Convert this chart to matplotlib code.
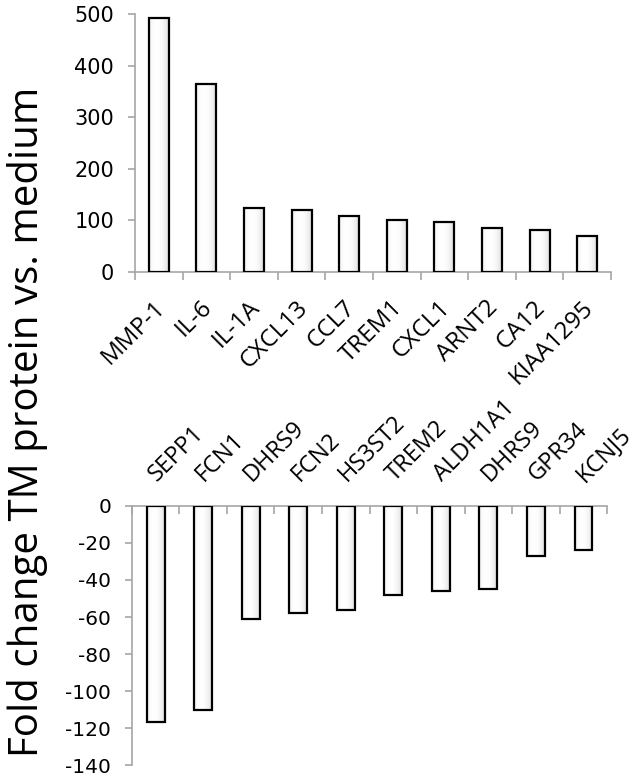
import matplotlib
matplotlib.use("Agg")
import matplotlib.pyplot as plt
import matplotlib.transforms as mtransforms
import numpy as np

up_genes = ["MMP-1", "IL-6", "IL-1A", "CXCL13", "CCL7", "TREM1", "CXCL1", "ARNT2", "CA12", "KIAA1295"]
up_values = [492, 364, 124, 120, 108, 101, 97, 85, 82, 70]

down_genes = ["SEPP1", "FCN1", "DHRS9", "FCN2", "HS3ST2", "TREM2", "ALDH1A1", "DHRS9", "GPR34", "KCNJ5"]
down_values = [-117, -110, -61, -58, -56, -48, -46, -45, -27, -24]

up_yticks = [0, 100, 200, 300, 400, 500]
down_yticks = [0, -20, -40, -60, -80, -100, -120, -140]

AXIS_GREY = "#a6a6a6"

plt.rcParams["axes.unicode_minus"] = False
plt.rcParams["font.family"] = ["DejaVu Sans"]

# light grey at the bar edges, almost white a little left of centre
t = np.linspace(0, 1, 64)
gradient = (1.0 - 0.13 * ((t - 0.4) / 0.6) ** 2).reshape(1, -1)


def draw_bars(ax, values, width):
    x = np.arange(len(values))
    bars = ax.bar(x, values, width=width, facecolor="none", edgecolor="black",
                  linewidth=1.6, zorder=3)
    for bar in bars:
        x0 = bar.get_x()
        y0 = bar.get_y()
        y1 = y0 + bar.get_height()
        ax.imshow(gradient, cmap="gray", vmin=0, vmax=1, aspect="auto",
                  extent=(x0, x0 + bar.get_width(), min(y0, y1), max(y0, y1)),
                  zorder=2, interpolation="bicubic")
    ax.set_xlim(-0.5, len(values) - 0.5)


def style_axis(ax, yticks, fontsize):
    for side in ax.spines:
        ax.spines[side].set_color(AXIS_GREY)
        ax.spines[side].set_linewidth(1.2)
    ax.set_yticks(yticks)
    ax.tick_params(axis="y", colors=AXIS_GREY, labelcolor="black", length=5,
                   width=1.2, labelsize=fontsize, pad=10)
    n = len(ax.patches)
    ax.set_xticks(np.arange(n))
    ax.set_xticks(np.arange(n + 1) - 0.5, minor=True)
    ax.tick_params(axis="x", which="major", length=0)
    ax.tick_params(axis="x", which="minor", colors=AXIS_GREY, length=6, width=1.2,
                   direction="out")


def shift_labels(fig, labels, dx_px):
    offset = mtransforms.ScaledTranslation(dx_px / fig.dpi, 0, fig.dpi_scale_trans)
    for label in labels:
        label.set_transform(label.get_transform() + offset)


fig = plt.figure(figsize=(6.36, 7.8), dpi=100)

ax_up = fig.add_axes([0.2123, 0.6513, 0.7484, 0.3307])
draw_bars(ax_up, up_values, 0.42)
ax_up.set_ylim(0, 500)
ax_up.spines["top"].set_visible(False)
ax_up.spines["right"].set_visible(False)
style_axis(ax_up, up_yticks, 15)
ax_up.set_xticklabels(up_genes, rotation=45, ha="right", va="top",
                      rotation_mode="anchor", fontsize=17.5, family="Open Sans")
ax_up.tick_params(axis="x", which="major", pad=17)
shift_labels(fig, ax_up.get_xticklabels(), -6)

ax_down = fig.add_axes([0.2075, 0.0192, 0.747, 0.3321])
draw_bars(ax_down, down_values, 0.37)
ax_down.set_ylim(-140, 0)
ax_down.spines["bottom"].set_visible(False)
ax_down.spines["right"].set_visible(False)
style_axis(ax_down, down_yticks, 14.5)
ax_down.xaxis.tick_top()
ax_down.tick_params(axis="x", which="minor", direction="in", top=True, bottom=False)
ax_down.tick_params(axis="x", which="major", top=True, bottom=False, pad=17)
ax_down.set_xticklabels(down_genes, rotation=45, ha="left", va="baseline",
                        rotation_mode="anchor", fontsize=17, family="Open Sans")
shift_labels(fig, ax_down.get_xticklabels(), 1)

fig.text(0.044, 0.459, "Fold change TM protein vs. medium", rotation=90,
         ha="center", va="center", fontsize=29, family="Open Sans")

fig.savefig("out.png", dpi=100)
